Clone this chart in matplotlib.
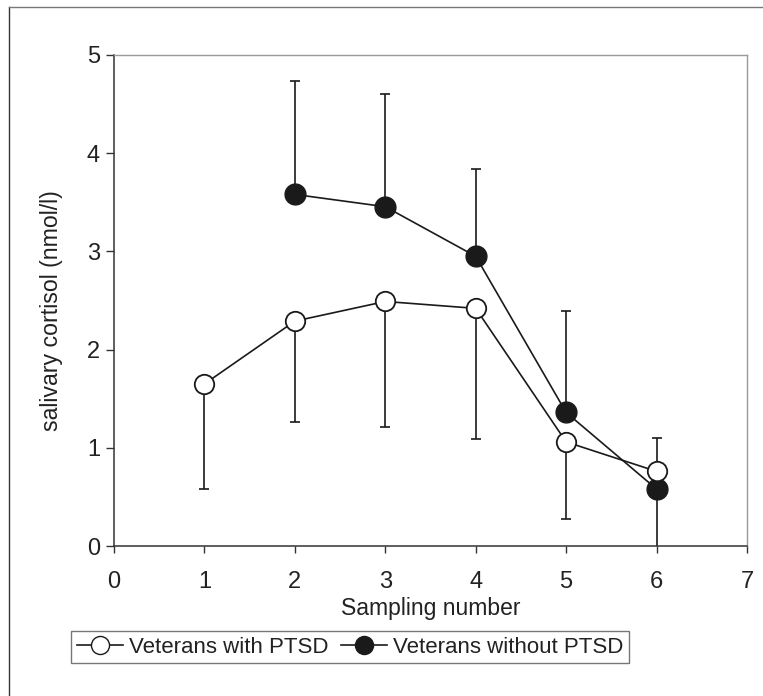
import matplotlib
matplotlib.use("Agg")
import matplotlib.pyplot as plt
from matplotlib.lines import Line2D

plt.rcParams['font.family'] = ['Liberation Sans', 'DejaVu Sans']

# sampling numbers
x_ptsd = [1, 2, 3, 4, 5, 6]
x_noptsd = [2, 3, 4, 5, 6]

# veterans with PTSD: mean and lower error bar end
ptsd_mean = [1.65, 2.29, 2.49, 2.42, 1.06, 0.76]
ptsd_low = [0.58, 1.26, 1.21, 1.09, 0.27, -0.04]

# veterans without PTSD: mean and upper error bar end
noptsd_mean = [3.58, 3.455, 2.95, 1.36, 0.58]
noptsd_high = [4.735, 4.60, 3.84, 2.39, 1.10]

xticks = [0, 1, 2, 3, 4, 5, 6, 7]
yticks = [0, 1, 2, 3, 4, 5]

fig = plt.figure(figsize=(7.63, 6.96), dpi=100)
ax = fig.add_axes([0.1494, 0.2155, 0.8296, 0.7055])

c = '#1a1a1a'
err_ptsd = [[m - l for m, l in zip(ptsd_mean, ptsd_low)], [0] * len(ptsd_mean)]
err_no = [[0] * len(noptsd_mean), [h - m for m, h in zip(noptsd_mean, noptsd_high)]]

ax.errorbar(x_ptsd, ptsd_mean, yerr=err_ptsd, fmt='none', ecolor=c,
            elinewidth=1.2, capsize=3.6, capthick=1.2, zorder=2)
ax.errorbar(x_noptsd, noptsd_mean, yerr=err_no, fmt='none', ecolor=c,
            elinewidth=1.2, capsize=3.6, capthick=1.2, zorder=2)

ax.plot(x_noptsd, noptsd_mean, '-o', color=c, lw=1.2, markersize=15,
        markerfacecolor=c, markeredgecolor=c, zorder=3)
ax.plot(x_ptsd, ptsd_mean, '-o', color=c, lw=1.2, markersize=14,
        markerfacecolor='white', markeredgecolor=c, markeredgewidth=1.3, zorder=4)

ax.set_xlim(0, 7)
ax.set_ylim(0, 5)
ax.set_xticks(xticks)
ax.set_yticks(yticks)
ax.tick_params(direction='out', width=1, colors='#333333',
               labelsize=17, labelcolor='#222222')
ax.tick_params(axis='x', length=5, pad=13)
ax.tick_params(axis='y', length=6, pad=4)
for s in ['left', 'bottom']:
    ax.spines[s].set_color('#333333')
    ax.spines[s].set_linewidth(1.1)
for s in ['top', 'right']:
    ax.spines[s].set_color('#999999')
    ax.spines[s].set_linewidth(1.0)

ax.set_xlabel('Sampling number', fontsize=16.5, color='#222222', labelpad=3)
ax.set_ylabel('salivary cortisol (nmol/l)', fontsize=16.7, color='#222222')
ax.yaxis.set_label_coords(-0.080, 0.48)

handles = [
    Line2D([], [], color=c, lw=1.2, marker='o', markersize=13,
           markerfacecolor='white', markeredgecolor=c),
    Line2D([], [], color=c, lw=1.2, marker='o', markersize=13,
           markerfacecolor=c, markeredgecolor=c),
]
leg = fig.legend(handles, ['Veterans with PTSD', 'Veterans without PTSD'],
                 loc='upper left', bbox_to_anchor=(71 / 763, 1 - 631 / 696),
                 ncol=2, fontsize=16, frameon=True, fancybox=False,
                 handlelength=2.1, handletextpad=0.25, columnspacing=0.55,
                 borderpad=0.25, borderaxespad=0)
leg.get_frame().set_edgecolor('#555555')
leg.get_frame().set_linewidth(1.0)
for t in leg.get_texts():
    t.set_color('#222222')

# outer frame lines (left and top)
fig.add_artist(Line2D([9 / 763, 9 / 763], [0, 1 - 7 / 696], color='#333333', lw=1.0))
fig.add_artist(Line2D([9 / 763, 1], [1 - 7 / 696, 1 - 7 / 696], color='#777777', lw=1.0))

fig.savefig('out.png', dpi=100)
